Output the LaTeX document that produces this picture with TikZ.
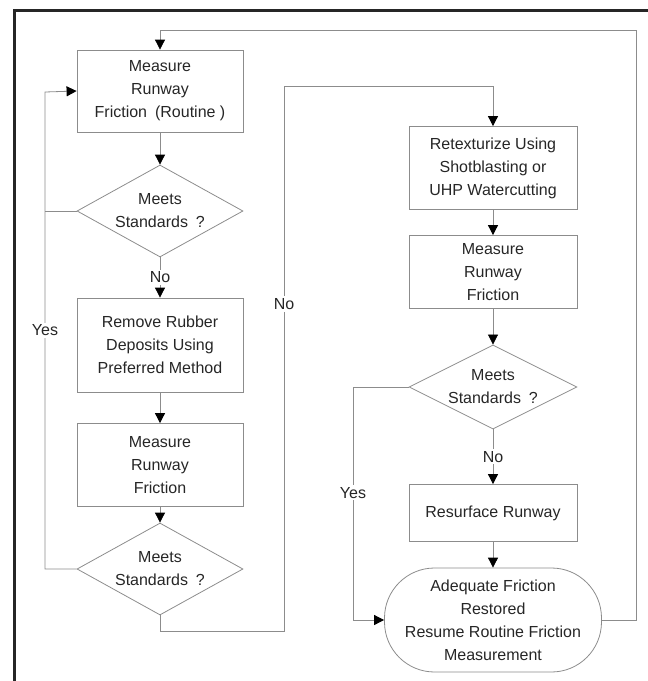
\documentclass[tikz,border=0pt]{standalone}
\usepackage{fontspec}
\setmainfont{Liberation Sans}
\usetikzlibrary{arrows.meta, shapes.geometric}

\tikzset{
  box/.style={rectangle, draw=black!45, line width=0.8pt, align=center, inner sep=1pt},
  dec/.style={diamond, draw=black!45, line width=0.8pt, align=center, inner sep=0pt,
    aspect=1.8, minimum width=166pt, minimum height=92pt},
  term/.style={rectangle, rounded corners=50pt, draw=black!45, line width=0.8pt, align=center,
    minimum width=217pt, minimum height=104pt},
  conn/.style={draw=black!45, line width=0.8pt},
  arr/.style={conn, -{Triangle[width=10pt,length=10pt,color=black]}},
  lbl/.style={fill=white, inner sep=2pt}
}

\begin{document}
\begin{tikzpicture}[x=1pt, y=-1pt, every node/.style={font=\fontsize{16}{23}\selectfont, text=black!85}]
  \useasboundingbox (0,0) rectangle (648,681);
  % frame
  \draw[line width=3pt, black!85] (14,690) -- (14,10) -- (660,10);

  % left column
  \node[box, minimum width=166pt, minimum height=82pt] at (160,91)  (meas1) {Measure\\Runway\\Friction\enspace(Routine\ )};
  \node[dec] at (160,211) (std1) {Meets\\Standards\enspace?};
  \node[box, minimum width=166pt, minimum height=94pt] at (160,345) (rubber) {Remove Rubber\\Deposits Using\\Preferred Method};
  \node[box, minimum width=166pt, minimum height=83pt] at (160,465) (meas2) {Measure\\Runway\\Friction};
  \node[dec] at (160,569) (std2) {Meets\\Standards\enspace?};

  % right column
  \node[box, minimum width=168pt, minimum height=83pt] at (493,168) (retex) {Retexturize Using\\Shotblasting or\\UHP Watercutting};
  \node[box, minimum width=168pt, minimum height=73pt] at (493,272) (meas3) {Measure\\Runway\\Friction};
  \node[dec, minimum width=168pt, minimum height=83pt] at (493,387) (std3) {Meets\\Standards\enspace?};
  \node[box, minimum width=168pt, minimum height=57pt] at (493,513) (resurf) {Resurface Runway};
  \node[term] at (493,620) (done) {Adequate Friction\\Restored\\Resume Routine Friction\\Measurement};

  % turning points
  \coordinate (yesA) at (45,92);
  \coordinate (noA) at (284,631);
  \coordinate (noB) at (284,86);
  \coordinate (yesB) at (353,620);
  \coordinate (back) at (636,30);

  \draw[arr] (meas1) -- (std1);
  \draw[arr] (std1) -- node[lbl]{No} (rubber);
  \draw[arr] (rubber) -- (meas2);
  \draw[arr] (meas2) -- (std2);
  \draw[arr] (std2.west) -| node[lbl, pos=0.75]{Yes} (yesA) -- (meas1.west);
  \draw[conn] (std1.west) -- (std1.west -| yesA);
  \draw[arr] (std2.south) |- (noA) -- node[lbl, pos=0.6]{No} (noB) -| (retex.north);

  \draw[arr] (retex) -- (meas3);
  \draw[arr] (meas3) -- (std3);
  \draw[arr] (std3) -- node[lbl]{No} (resurf);
  \draw[arr] (resurf) -- (done);
  \draw[arr] (std3.west) -| node[lbl, pos=0.727]{Yes} (yesB) -- (done.west);
  \draw[arr] (done.east) -| (back) -| (meas1.north);
\end{tikzpicture}
\end{document}
